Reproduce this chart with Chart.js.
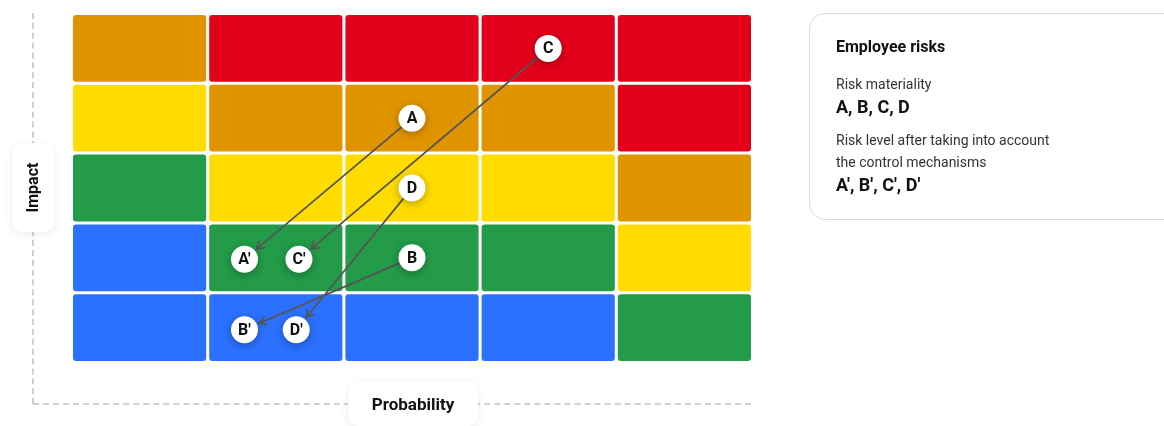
<!DOCTYPE html>
<html>
<head>
<meta charset="utf-8">
<script src="https://cdn.jsdelivr.net/npm/chart.js@4"></script>
<style>
  html, body { margin: 0; padding: 0; background: #fff; }
  body { width: 1164px; height: 426px; position: relative; overflow: hidden; font-family: Roboto, "Noto Sans", sans-serif; color: #111; }
  #riskChart { position: absolute; left: 0; top: 0; }
  .axisLineV { position: absolute; left: 32px; top: 13px; height: 391px; border-left: 2px dashed #d0d0d0; }
  .axisLineH { position: absolute; left: 33px; top: 403px; width: 718px; border-top: 2px dashed #d0d0d0; }
  .pill { position: absolute; background: #fff; border-radius: 10px; box-shadow: 0 2px 10px rgba(0,0,0,0.08); font-weight: 700; font-size: 16px; display: flex; align-items: center; justify-content: center; }
  #impactPill { left: 12px; top: 143px; width: 42px; height: 89px; }
  #impactPill span { transform: rotate(-90deg); white-space: nowrap; }
  #probPill { left: 348px; top: 382px; width: 130px; height: 44px; font-size: 17px; }
  #legendCard { position: absolute; left: 809px; top: 13px; width: 380px; height: 207px; border: 1px solid #dcdcdc; border-radius: 16px; box-sizing: border-box; padding: 23px 26px; }
  #legendCard .title { font-weight: 700; font-size: 16px; margin-bottom: 17px; }
  #legendCard .sub { font-size: 14px; color: #333; line-height: 22px; }
  #legendCard .big { font-weight: 700; font-size: 18px; line-height: 24px; margin-bottom: 10px; }
</style>
</head>
<body>
<canvas id="riskChart" width="1164" height="426"></canvas>
<div class="axisLineV"></div>
<div class="axisLineH"></div>
<div class="pill" id="impactPill"><span>Impact</span></div>
<div class="pill" id="probPill">Probability</div>
<div id="legendCard">
  <div class="title">Employee risks</div>
  <div class="sub">Risk materiality</div>
  <div class="big">A, B, C, D</div>
  <div class="sub">Risk level after taking into account<br>the control mechanisms</div>
  <div class="big">A′, B′, C′, D′</div>
</div>
<script>
// Heat map colours, rows from impact 1 (bottom) to impact 5 (top)
const ORANGE = '#e09400', RED = '#e2001a', YELLOW = '#ffdb00', GREEN = '#239b48', BLUE = '#2b70ff';
const matrixColors = [
    [BLUE, BLUE, BLUE, BLUE, GREEN],
    [BLUE, GREEN, GREEN, GREEN, YELLOW],
    [GREEN, YELLOW, YELLOW, YELLOW, ORANGE],
    [YELLOW, ORANGE, ORANGE, ORANGE, RED],
    [ORANGE, RED, RED, RED, RED]
];

// Risks: inherent position and position after the control mechanisms
const riskNames = ['A', 'B', 'C', 'D'];
const inherentX = [2.5, 2.5, 3.5, 2.5];
const inherentY = [3.5, 1.5, 4.5, 2.5];
const residualNames = ['A′', 'B′', 'C′', 'D′'];
const residualX = [1.27, 1.27, 1.67, 1.65];
const residualY = [1.48, 0.47, 1.48, 0.47];

const inherentPoints = riskNames.map((n, i) => ({ x: inherentX[i], y: inherentY[i], label: n }));
const residualPoints = residualNames.map((n, i) => ({ x: residualX[i], y: residualY[i], label: n }));

// Draws the coloured cells and the arrows
const matrixPlugin = {
    id: 'matrix',
    beforeDatasetsDraw(chart) {
        const ctx = chart.ctx;
        const xs = chart.scales.x, ys = chart.scales.y;
        ctx.save();
        for (let r = 0; r < matrixColors.length; r++) {
            for (let c = 0; c < matrixColors[r].length; c++) {
                const x0 = xs.getPixelForValue(c) + 1.5;
                const x1 = xs.getPixelForValue(c + 1) - 1.5;
                const y0 = ys.getPixelForValue(r + 1) + 1.5;
                const y1 = ys.getPixelForValue(r) - 1.5;
                ctx.fillStyle = matrixColors[r][c];
                ctx.beginPath();
                ctx.roundRect(x0, y0, x1 - x0, y1 - y0, 3);
                ctx.fill();
            }
        }
        // arrows from inherent to residual
        ctx.strokeStyle = '#555';
        ctx.lineWidth = 1.8;
        ctx.lineCap = 'round';
        for (let i = 0; i < riskNames.length; i++) {
            const sx = xs.getPixelForValue(inherentX[i]), sy = ys.getPixelForValue(inherentY[i]);
            const ex = xs.getPixelForValue(residualX[i]), ey = ys.getPixelForValue(residualY[i]);
            const ang = Math.atan2(ey - sy, ex - sx);
            const ax = sx + Math.cos(ang) * 13, ay = sy + Math.sin(ang) * 13;
            const bx = ex - Math.cos(ang) * 16, by = ey - Math.sin(ang) * 16;
            ctx.beginPath();
            ctx.moveTo(ax, ay);
            ctx.lineTo(bx, by);
            ctx.stroke();
            ctx.beginPath();
            ctx.moveTo(bx - Math.cos(ang - 0.55) * 8, by - Math.sin(ang - 0.55) * 8);
            ctx.lineTo(bx, by);
            ctx.lineTo(bx - Math.cos(ang + 0.55) * 8, by - Math.sin(ang + 0.55) * 8);
            ctx.stroke();
        }
        ctx.restore();
    },
    beforeDatasetDraw(chart) {
        chart.ctx.save();
        chart.ctx.shadowColor = 'rgba(0,0,0,0.3)';
        chart.ctx.shadowBlur = 8;
        chart.ctx.shadowOffsetY = 2;
    },
    afterDatasetDraw(chart) {
        chart.ctx.restore();
    },
    afterDatasetsDraw(chart) {
        const ctx = chart.ctx;
        ctx.save();
        ctx.fillStyle = '#111';
        ctx.font = 'bold 16px Roboto';
        ctx.textAlign = 'center';
        ctx.textBaseline = 'middle';
        chart.data.datasets.forEach((ds, di) => {
            chart.getDatasetMeta(di).data.forEach((pt, i) => {
                ctx.fillText(ds.data[i].label, pt.x, pt.y + 1);
            });
        });
        ctx.restore();
    }
};

new Chart(document.getElementById('riskChart'), {
    type: 'scatter',
    data: {
        datasets: [
            { label: 'Risk materiality', data: inherentPoints },
            { label: 'After control mechanisms', data: residualPoints }
        ]
    },
    options: {
        responsive: false,
        animation: false,
        layout: { padding: { left: 71.5, right: 411.5, top: 11.5, bottom: 63.5 } },
        elements: {
            point: { radius: 13.5, hoverRadius: 13.5, backgroundColor: '#fff', borderWidth: 0 }
        },
        scales: {
            x: { type: 'linear', min: 0, max: 5, display: false },
            y: { type: 'linear', min: 0, max: 5, display: false }
        },
        plugins: {
            legend: { display: false },
            tooltip: { enabled: false }
        }
    },
    plugins: [matrixPlugin]
});
</script>
</body>
</html>
